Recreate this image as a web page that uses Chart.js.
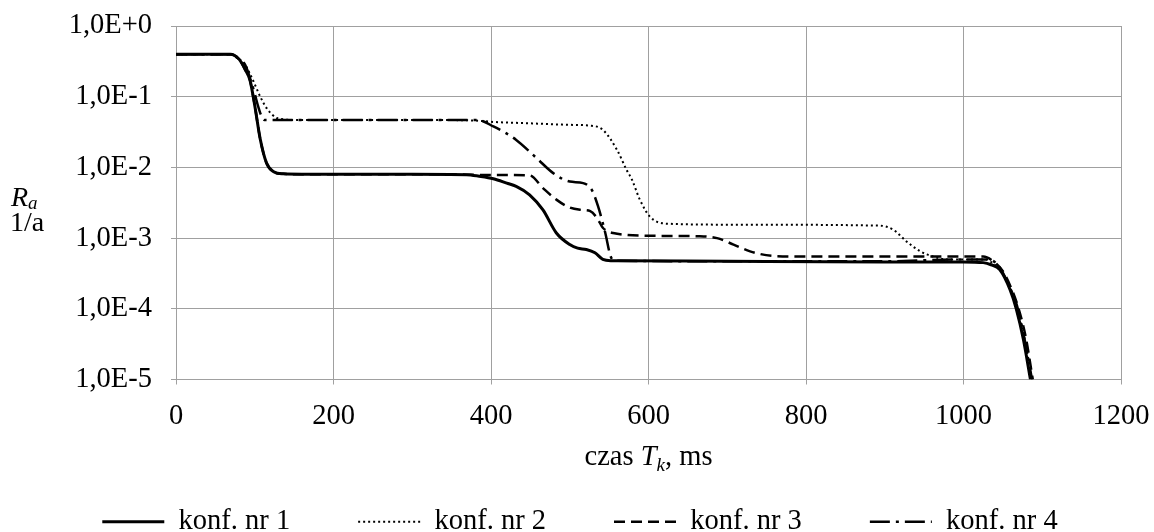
<!DOCTYPE html>
<html>
<head>
<meta charset="utf-8">
<script src="https://cdn.jsdelivr.net/npm/chart.js@4"></script>
<style>
  html, body { margin: 0; background: #fff; }
</style>
</head>
<body>
<canvas id="chart" width="1154" height="532"></canvas>
<script>
// axis ticks
const xTicks = [0, 200, 400, 600, 800, 1000, 1200];
const yTicks = [0.00001, 0.0001, 0.001, 0.01, 0.1, 1];
const yTickLabels = ['1,0E-5', '1,0E-4', '1,0E-3', '1,0E-2', '1,0E-1', '1,0E+0'];
const seriesNames = ['konf. nr 1', 'konf. nr 2', 'konf. nr 3', 'konf. nr 4'];

// konf. nr 1 (time in ms, Ra in 1/a)
const t1 = [0, 60, 69, 80, 88, 94, 100, 107, 115, 124, 136, 160, 300, 369, 385, 403, 420, 432, 449, 466, 483, 500, 510, 521, 532, 542, 552, 560, 700, 900, 1000, 1025, 1035, 1046, 1059, 1067, 1076, 1085];
const r1 = [0.4, 0.4, 0.4, 0.34, 0.24, 0.17, 0.075, 0.025, 0.0115, 0.0087, 0.0081, 0.008, 0.008, 0.0079, 0.0075, 0.0069, 0.006, 0.0054, 0.0041, 0.0025, 0.00118, 0.00081, 0.00072, 0.00069, 0.00062, 0.0005, 0.00048, 0.00048, 0.00047, 0.00046, 0.00046, 0.00045, 0.00042, 0.00036, 0.000188, 0.0001, 0.000037, 0.00001];

// konf. nr 2
const t2 = [0, 60, 69, 80, 88, 94, 100, 107, 115, 122, 128, 136, 145, 300, 380, 403, 450, 500, 526, 542, 560, 572, 579, 589, 602, 623, 700, 894, 911, 928, 945, 961, 979, 1030, 1035, 1048, 1060, 1068, 1077, 1087];
const r2 = [0.4, 0.4, 0.4, 0.34, 0.28, 0.21, 0.15, 0.1, 0.069, 0.056, 0.05, 0.048, 0.047, 0.047, 0.046, 0.044, 0.042, 0.04, 0.039, 0.034, 0.0177, 0.0093, 0.0067, 0.0035, 0.002, 0.0016, 0.00155, 0.0015, 0.00131, 0.00089, 0.00065, 0.00055, 0.0005, 0.0005, 0.00046, 0.00034, 0.00019, 0.0001, 0.00004, 0.00001];

// konf. nr 3
const t3 = [0, 60, 69, 80, 88, 94, 100, 107, 115, 124, 136, 160, 300, 369, 400, 449, 466, 483, 500, 515, 526, 535, 542, 555, 600, 665, 687, 708, 729, 758, 792, 1025, 1040, 1050, 1062, 1070, 1079, 1088];
const r3 = [0.4, 0.4, 0.4, 0.34, 0.24, 0.17, 0.075, 0.025, 0.0115, 0.0087, 0.0081, 0.008, 0.008, 0.0079, 0.0078, 0.0077, 0.0051, 0.0035, 0.0027, 0.0025, 0.0024, 0.0019, 0.0014, 0.00118, 0.00108, 0.00106, 0.001, 0.00081, 0.00065, 0.00056, 0.00055, 0.00055, 0.00045, 0.00034, 0.00018, 0.0001, 0.00004, 0.00001];

// konf. nr 4
const t4 = [0, 60, 69, 80, 88, 95, 100, 104, 108, 112, 130, 300, 382, 403, 432, 458, 479, 500, 517, 528, 536, 545, 552, 558, 700, 900, 1000, 1030, 1045, 1058, 1068, 1077, 1087];
const r4 = [0.4, 0.4, 0.4, 0.34, 0.28, 0.17, 0.11, 0.075, 0.055, 0.047, 0.047, 0.047, 0.047, 0.038, 0.0245, 0.0135, 0.0083, 0.0063, 0.006, 0.0048, 0.0028, 0.0012, 0.00055, 0.00048, 0.00047, 0.00047, 0.0005, 0.0005, 0.0004, 0.00021, 0.00011, 0.00004, 0.00001];

const toPoints = (xs, ys) => xs.map((x, i) => ({ x: x, y: ys[i] }));

const serif = "'Liberation Serif', 'Times New Roman', serif";
const font = { family: serif, size: 28.5 };
const gridColor = '#a0a0a0';

// axis titles with italic symbols and subscripts
const axisTitles = {
  id: 'axisTitles',
  afterDraw(chart) {
    const ctx = chart.ctx;
    const area = chart.chartArea;
    ctx.save();
    ctx.fillStyle = '#000';
    ctx.textBaseline = 'alphabetic';
    ctx.textAlign = 'left';

    const parts = [
      { text: 'czas ', italic: false, size: 28.5, dy: 0 },
      { text: 'T', italic: true, size: 28.5, dy: 0 },
      { text: 'k', italic: true, size: 19, dy: 6 },
      { text: ', ms', italic: false, size: 28.5, dy: 0 }
    ];
    let total = 0;
    parts.forEach(p => {
      ctx.font = (p.italic ? 'italic ' : '') + p.size + 'px ' + serif;
      p.w = ctx.measureText(p.text).width;
      total += p.w;
    });
    let x = (area.left + area.right) / 2 - total / 2;
    parts.forEach(p => {
      ctx.font = (p.italic ? 'italic ' : '') + p.size + 'px ' + serif;
      ctx.fillText(p.text, x, 465 + p.dy);
      x += p.w;
    });

    ctx.font = 'italic 28px ' + serif;
    ctx.fillText('R', 11, 206);
    const rw = ctx.measureText('R').width;
    ctx.font = 'italic 19px ' + serif;
    ctx.fillText('a', 11 + rw, 209);
    ctx.font = '28px ' + serif;
    ctx.fillText('1/a', 10, 231);
    ctx.restore();
  }
};

new Chart(document.getElementById('chart').getContext('2d'), {
  type: 'line',
  data: {
    datasets: [
      { label: seriesNames[0], data: toPoints(t1, r1), borderColor: '#000', backgroundColor: '#000', borderWidth: 3, yAxisID: 'y' },
      { label: seriesNames[1], data: toPoints(t2, r2), borderColor: '#000', backgroundColor: '#000', borderWidth: 2, borderDash: [2, 3], yAxisID: 'y' },
      { label: seriesNames[2], data: toPoints(t3, r3), borderColor: '#000', backgroundColor: '#000', borderWidth: 2.5, borderDash: [11, 6], yAxisID: 'y' },
      { label: seriesNames[3], data: toPoints(t4, r4), borderColor: '#000', backgroundColor: '#000', borderWidth: 2.5, borderDash: [20, 6, 3, 6], yAxisID: 'y' }
    ]
  },
  options: {
    responsive: false,
    animation: false,
    devicePixelRatio: 1,
    layout: { autoPadding: false, padding: { left: 6, right: 0, top: 26, bottom: -14 } },
    elements: {
      point: { radius: 0 },
      line: { cubicInterpolationMode: 'monotone', fill: false }
    },
    plugins: {
      tooltip: { enabled: false },
      legend: {
        position: 'bottom',
        labels: {
          font: font,
          color: '#000',
          usePointStyle: true,
          pointStyle: 'line',
          pointStyleWidth: 62,
          padding: 68,
          generateLabels: chart => Chart.defaults.plugins.legend.labels.generateLabels(chart).map((item, i) => {
            const ds = chart.data.datasets[i];
            item.lineDash = ds.borderDash || [];
            item.lineWidth = ds.borderWidth;
            item.strokeStyle = ds.borderColor;
            item.pointStyle = 'line';
            return item;
          })
        }
      }
    },
    scales: {
      x: {
        type: 'linear',
        min: 0,
        max: 1200,
        afterBuildTicks: s => { s.ticks = xTicks.map(v => ({ value: v })); },
        afterFit: s => { s.height = 60; s.paddingRight = 0; s.paddingLeft = 0; },
        ticks: { font: font, color: '#000', padding: 15, maxRotation: 0, autoSkip: false, callback: v => String(v) },
        grid: { color: gridColor, tickLength: 5 },
        border: { color: gridColor }
      },
      y: {
        type: 'logarithmic',
        position: 'left',
        min: 0.00001,
        max: 1,
        afterBuildTicks: s => { s.ticks = yTicks.map(v => ({ value: v })); },
        afterFit: s => { s.width = 170; s.paddingTop = 0; s.paddingBottom = 0; },
        ticks: {
          font: font,
          color: '#000',
          padding: 19,
          autoSkip: false,
          callback: (v, i) => yTickLabels[i]
        },
        grid: { color: gridColor, tickLength: 5 },
        border: { color: gridColor }
      },
      // empty right-hand strip so the legend spans the whole width
      yRight: {
        type: 'linear',
        position: 'right',
        afterFit: s => { s.width = 33; },
        ticks: { display: false },
        grid: { display: false },
        border: { display: false }
      }
    }
  },
  plugins: [axisTitles]
});
</script>
</body>
</html>
